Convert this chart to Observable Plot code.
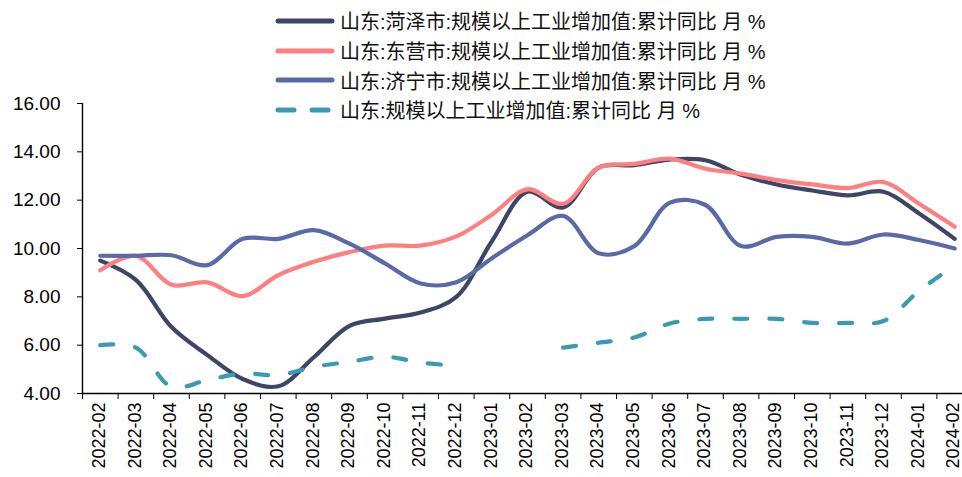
<!DOCTYPE html>
<html><head><meta charset="utf-8">
<script src="https://cdn.jsdelivr.net/npm/d3@7"></script>
<script src="https://cdn.jsdelivr.net/npm/@observablehq/plot@0.6"></script>
<style>
body{margin:0;background:#fff;}
#wrap{position:relative;width:962px;height:477px;font-family:"Liberation Sans","Noto Sans CJK SC",sans-serif;}
#legend{position:absolute;left:275px;top:6px;}
.row{display:flex;align-items:center;height:29.7px;font-size:20px;color:#111;white-space:nowrap;font-family:"Liberation Sans","Noto Sans CJK SC",sans-serif;}
.row svg{margin-right:5px;flex:none}
</style></head><body><div id="wrap"><div id="legend"></div></div>
<script>
const months = ["2022-02","2022-03","2022-04","2022-05","2022-06","2022-07","2022-08","2022-09","2022-10","2022-11","2022-12","2023-01","2023-02","2023-03","2023-04","2023-05","2023-06","2023-07","2023-08","2023-09","2023-10","2023-11","2023-12","2024-01","2024-02"];
const heze = [9.5, 8.7, 6.75, 5.6, 4.6, 4.3, 5.5, 6.8, 7.1, 7.35, 8.0, 10.3, 12.35, 11.7, 13.35, 13.45, 13.68, 13.65, 13.05, 12.65, 12.4, 12.2, 12.35, 11.45, 10.4];
const dongying = [9.1, 9.7, 8.5, 8.6, 8.03, 8.9, 9.45, 9.85, 10.12, 10.12, 10.5, 11.4, 12.45, 11.85, 13.35, 13.5, 13.72, 13.3, 13.1, 12.83, 12.65, 12.5, 12.75, 11.85, 10.9];
const jining = [9.7, 9.7, 9.72, 9.31, 10.4, 10.4, 10.76, 10.2, 9.38, 8.55, 8.6, 9.6, 10.55, 11.35, 9.8, 10.1, 11.9, 11.8, 10.1, 10.48, 10.48, 10.2, 10.58, 10.35, 10.0];
const shandong = [6.0, 5.9, 4.28, 4.55, 4.83, 4.76, 5.1, 5.31, 5.52, 5.28, 5.15, null, null, 5.9, 6.1, 6.32, 6.9, 7.09, 7.09, 7.09, 6.92, 6.92, 7.0, 8.25, 9.3];
const seriesNames = ["山东:菏泽市:规模以上工业增加值:累计同比 月 %","山东:东营市:规模以上工业增加值:累计同比 月 %","山东:济宁市:规模以上工业增加值:累计同比 月 %","山东:规模以上工业增加值:累计同比 月 %"];
const seriesValues = [heze, dongying, jining, shandong];
const seriesColors = ["#3d4666","#ff7f80","#5a6aa6","#3a9ab4"];
const seriesDash = [null, null, null, "13,22"];
const yTicks = [4, 6, 8, 10, 12, 14, 16];

const edges = d3.range(months.length + 1).map(k => k - 0.5);
const marks = [];
seriesValues.forEach((vals, s) => {
  const data = vals.map((v, i) => ({i, v}));
  marks.push(Plot.line(data, {
    x: "i", y: "v", curve: "catmull-rom",
    defined: d => d.v != null,
    stroke: seriesColors[s], strokeWidth: 4.2,
    strokeDasharray: seriesDash[s] || undefined,
    strokeLinecap: "round", strokeLinejoin: "round"
  }));
});

const chart = Plot.plot({
  width: 962, height: 477,
  marginTop: 103, marginBottom: 84, marginLeft: 82, marginRight: 0,
  style: {fontFamily: "Liberation Sans, Noto Sans CJK SC, sans-serif", fontSize: "19px", color: "#000", background: "#fff"},
  x: {domain: [-0.5, 24.5], range: [82, 82 + 25 * 35.6]},
  y: {domain: [4, 16]},
  marks: [
    ...marks,
    Plot.ruleY([4], {stroke: "#000", strokeWidth: 1.4}),
    Plot.ruleX([-0.5], {stroke: "#000", strokeWidth: 1.4}),
    Plot.axisY(yTicks, {tickSize: 5, tickPadding: 17, tickFormat: d => d.toFixed(2), label: null, fontSize: 19, stroke: "#000"}),
    Plot.axisX(edges, {tickSize: 6, tickFormat: () => "", label: null, stroke: "#000"}),
    Plot.axisX(d3.range(months.length), {tickSize: 0, tickPadding: 9, tickRotate: -90, tickFormat: i => months[i], label: null, fontSize: 18, dx: -1})
  ]
});
document.getElementById("wrap").prepend(chart);

const legend = document.getElementById("legend");
seriesNames.forEach((name, s) => {
  const row = document.createElement("div");
  row.className = "row";
  const dash = seriesDash[s] ? 'stroke-dasharray="16,18"' : "";
  row.innerHTML = `<svg width="60" height="10"><line x1="3" x2="57" y1="5" y2="5" stroke="${seriesColors[s]}" stroke-width="5" stroke-linecap="round" ${dash}/></svg><span>${name}</span>`;
  legend.appendChild(row);
});
</script>
</body></html>
